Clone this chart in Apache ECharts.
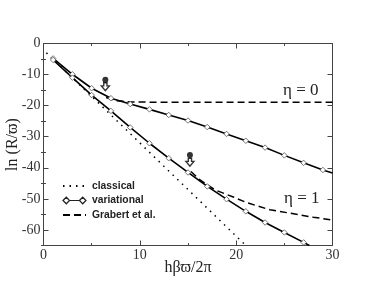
<!DOCTYPE html>
<html><head><meta charset="utf-8">
<style>html,body{margin:0;padding:0;background:#fff}#c{width:382px;height:295px}</style>
<script src="https://cdn.jsdelivr.net/npm/echarts@6/dist/echarts.min.js"></script>
</head><body><div id="c"></div>
<script>
const classical = [[0.3,-3],[5,-17],[10,-32],[15,-47],[20,-62],[21,-65]];
const variationalEta0 = [[1,-4.8],[3,-9.9],[5,-14.4],[7,-17.6],[9,-19.5],[11,-21.2],[13,-23],[15,-24.8],[17,-26.9],[19,-29.1],[21,-31.3],[23,-33.5],[25,-36],[27,-38.4],[29,-40.7],[30,-41.7]];
const variationalEta1 = [[1,-5.3],[3,-11],[5,-16.6],[7,-21.7],[9,-27],[11,-32.1],[13,-36.9],[15,-41.5],[17,-46],[19,-50.1],[21,-54],[23,-57.6],[25,-60.8],[27,-64],[27.6,-65]];
const grabertEta0 = [[6.5,-17.4],[7.5,-18.4],[9,-18.8],[12,-18.9],[20,-18.9],[30,-18.9]];
const grabertEta1 = [[15.3,-41.2],[16.25,-43.9],[17.8,-47.1],[19.7,-49.4],[21.1,-51.2],[23.5,-53.5],[25.6,-54.6],[28,-55.9],[30,-56.8]];
const pins = [[6.42,-11.7],[15.2,-35.9]];
const arrows = [[6.42,-13.9],[15.2,-38.2]];
const etaLabels = ['\u03B7 = 0','\u03B7 = 1'];
const xTitle = 'h\u03B2\u03D6/2\u03C0';
const yTitle = 'ln (R/\u03D6)';

const serif = '"Liberation Serif","Times New Roman",serif';
const ink = '#444';
const line = {onZero:false,lineStyle:{color:ink,width:1}};
const xCommon = {
  axisLine:line,
  axisTick:{inside:true,length:5,lineStyle:{color:ink,width:1}},
  minorTick:{show:true,splitNumber:2,length:2.5,lineStyle:{color:ink,width:1}},
  splitLine:{show:false}
};
const hollow = {color:'#fff',borderColor:'#555',borderWidth:0.8};
const solid = {color:'#000',width:1.6};
const varSeries = d => ({name:'variational',type:'line',data:d,showSymbol:true,
  symbol:v=>v[0]%2===1?'diamond':'none',symbolSize:5.5,
  itemStyle:hollow,lineStyle:solid,z:4,silent:true});
const major = [0,-10,-20,-30,-40,-50,-60];
const minor = [-5,-15,-25,-35,-45,-55,-65];
const chart = echarts.init(document.getElementById('c'),null,{renderer:'canvas'});
chart.setOption({
  animation:false,
  grid:{left:43.5,right:49.5,top:43.5,bottom:49.5,outerBoundsMode:'none'},
  xAxis:[
    Object.assign({type:'value',min:0,max:30,interval:10,position:'bottom',
      name:xTitle,nameLocation:'middle',nameGap:14,nameMoveOverlap:false,
      nameTextStyle:{fontFamily:serif,fontSize:16,color:'#222'},
      axisLabel:{fontFamily:serif,fontSize:14,color:'#333',margin:3,showMinLabel:true,showMaxLabel:true}},xCommon),
    Object.assign({type:'value',min:0,max:30,interval:10,position:'top',axisLabel:{show:false}},xCommon)
  ],
  yAxis:[
    {type:'value',min:-65,max:0,interval:5,position:'left',
      name:yTitle,nameLocation:'middle',nameGap:23,nameMoveOverlap:false,
      nameTextStyle:{fontFamily:serif,fontSize:16,color:'#222'},
      axisLabel:{fontFamily:serif,fontSize:14,color:'#333',margin:3,customValues:major},
      axisLine:line,
      axisTick:{inside:true,length:5,lineStyle:{color:ink,width:1},customValues:major},
      splitLine:{show:false}},
    {type:'value',min:-65,max:0,interval:5,position:'left',axisLabel:{show:false},
      axisLine:{show:false},
      axisTick:{inside:true,length:2.5,lineStyle:{color:ink,width:1},customValues:minor},splitLine:{show:false}},
    {type:'value',min:-65,max:0,interval:5,position:'right',axisLabel:{show:false},
      axisLine:line,
      axisTick:{inside:true,length:5,lineStyle:{color:ink,width:1},customValues:major},splitLine:{show:false}},
    {type:'value',min:-65,max:0,interval:5,position:'right',axisLabel:{show:false},
      axisLine:{show:false},
      axisTick:{inside:true,length:2.5,lineStyle:{color:ink,width:1},customValues:minor},splitLine:{show:false}}
  ],
  legend:{
    orient:'vertical',left:62,top:181,padding:0,itemWidth:23,itemHeight:8,itemGap:4.5,
    data:[
      {name:'classical',itemStyle:{opacity:0}},
      {name:'variational',icon:'path://M0,4 L3,1 L6,4 L3,7 Z M6,4 L15,4 M15,4 L18,1 L21,4 L18,7 Z',
        itemStyle:{color:'#fff',borderColor:'#222',borderWidth:1.2}},
      {name:'Grabert et al.',itemStyle:{opacity:0}}
    ],
    textStyle:{fontFamily:'"Liberation Sans",Arial,sans-serif',fontSize:10.3,fontWeight:'bold',color:'#222',padding:[0,0,0,1]}
  },
  series:[
    {name:'classical',type:'line',data:classical,showSymbol:false,symbol:'none',
      lineStyle:{color:'#000',width:1.5,type:[1.5,5]},z:2,silent:true},
    varSeries(variationalEta0),
    varSeries(variationalEta1),
    {name:'Grabert et al.',type:'line',data:grabertEta0,showSymbol:false,symbol:'none',
      lineStyle:{color:'#000',width:1.5,type:[7,4]},z:3,silent:true},
    {name:'Grabert et al.',type:'line',data:grabertEta1,showSymbol:false,symbol:'none',
      lineStyle:{color:'#000',width:1.5,type:[7,4]},z:3,silent:true},
    {name:'pin',type:'scatter',data:pins,symbol:'circle',symbolSize:6,itemStyle:{color:'#000'},z:6,silent:true},
    {name:'arrow',type:'scatter',data:arrows,
      symbol:'path://M3,0 L7,0 L7,4 L10,4 L5,10 L0,4 L3,4 Z',symbolSize:[8,8],
      itemStyle:{color:'#fff',borderColor:'#000',borderWidth:1.4},z:6,silent:true}
  ],
  graphic:[
    {type:'text',left:283,top:82,silent:true,style:{text:etaLabels[0],font:'17px '+serif,fill:'#222'}},
    {type:'text',left:284,top:190,silent:true,style:{text:etaLabels[1],font:'17px '+serif,fill:'#222'}}
  ]
});
</script></body></html>
